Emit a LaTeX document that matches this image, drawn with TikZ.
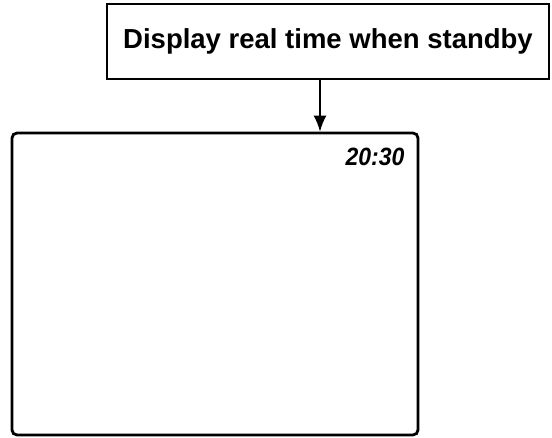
\documentclass[tikz,border=0pt]{standalone}
\usepackage{fontspec}
\setmainfont{Liberation Sans}
\usetikzlibrary{positioning,arrows.meta}
\tikzset{labelbox/.style={draw, line width=1.3pt, minimum width=442pt, minimum height=75pt, inner sep=0pt, font=\bfseries\fontsize{27.5}{30}\selectfont}}
\tikzset{screen/.style={draw, line width=2.8pt, rounded corners=5pt, minimum width=406pt, minimum height=302pt, inner sep=0pt}}
\tikzset{clock/.style={inner sep=0pt, font=\bfseries\itshape\fontsize{25}{27}\selectfont}}
\tikzset{arr/.style={draw, -{Latex[length=16pt,width=13pt]}, line width=1.7pt}}

\begin{document}
\begin{tikzpicture}[x=1pt,y=-1pt]
\useasboundingbox (0,0) rectangle (552,437);
			\node[labelbox] (msg) at (328,41.5) {Display real time when standby};
			\node[screen] (lcd) at (215,284) {};
			\node[clock,xscale=0.92] (clk) at (375,157) {20:30};
%
			\draw[arr] ([xshift=-8pt]msg.south) -- ([xshift=-8pt]msg.south |- lcd.north);
		\end{tikzpicture}
\end{document}
